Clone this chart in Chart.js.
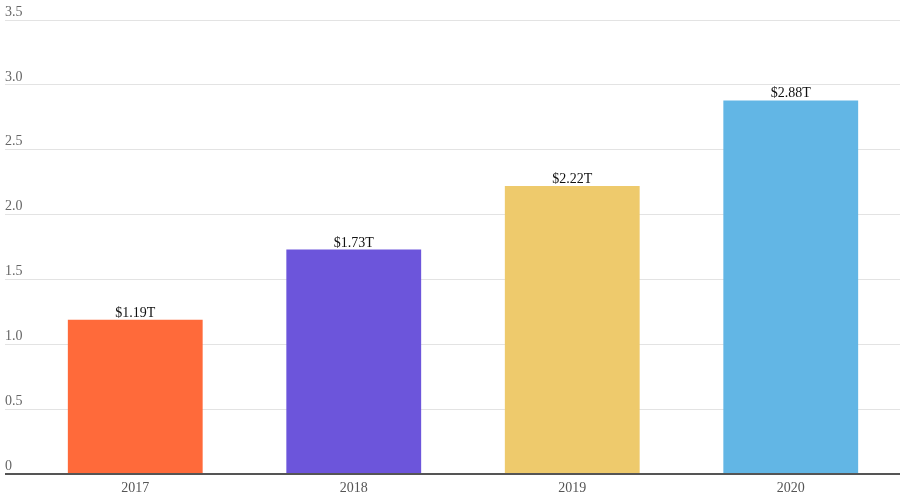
<!DOCTYPE html>
<html>
<head>
<meta charset="utf-8">
<script src="https://cdn.jsdelivr.net/npm/chart.js@4"></script>
<style>
  html, body { margin: 0; padding: 0; background: #fff; }
  #wrap { width: 900px; height: 501px; }
</style>
</head>
<body>
<div id="wrap"><canvas id="revenueChart"></canvas></div>
<script>
const years = ["2017", "2018", "2019", "2020"];
const revenue = [1.19, 1.73, 2.22, 2.88];
const barColors = ["#FF6A3A", "#6C55DB", "#EECA6C", "#62B6E5"];
const yTicks = [0, 0.5, 1.0, 1.5, 2.0, 2.5, 3.0, 3.5];

const serif = "'Liberation Serif', 'Times New Roman', serif";

// writes "$x.xxT" above each bar
const valueLabels = {
    id: "valueLabels",
    afterDatasetsDraw(chart) {
        const ctx = chart.ctx;
        const meta = chart.getDatasetMeta(0);
        ctx.save();
        ctx.font = "14px " + serif;
        ctx.fillStyle = "#111";
        ctx.textAlign = "center";
        ctx.textBaseline = "alphabetic";
        meta.data.forEach((bar, i) => {
            ctx.fillText("$" + revenue[i].toFixed(2) + "T", bar.x, bar.y - 3);
        });
        ctx.restore();
    }
};

new Chart(document.querySelector("#revenueChart"), {
    type: "bar",
    data: {
        labels: years,
        datasets: [{
            data: revenue,
            backgroundColor: barColors,
            borderWidth: 0,
            barPercentage: 0.617,
            categoryPercentage: 1
        }]
    },
    options: {
        responsive: true,
        maintainAspectRatio: false,
        animation: false,
        layout: { padding: { left: 5, right: 0, top: 20, bottom: 0 } },
        plugins: {
            legend: { display: false },
            tooltip: { enabled: false }
        },
        scales: {
            x: {
                afterFit(scale) { scale.height = 27; },
                grid: { display: false, drawTicks: false },
                border: { display: false },
                ticks: {
                    color: "#555",
                    padding: 6,
                    font: { family: serif, size: 14 }
                }
            },
            y: {
                min: 0,
                max: 3.5,
                afterFit(scale) { scale.width = 21; },
                afterBuildTicks(scale) {
                    scale.ticks = yTicks.map(v => ({ value: v }));
                },
                grid: {
                    color: c => c.tick && c.tick.value === 0 ? "#555" : "#e3e3e3",
                    lineWidth: c => c.tick && c.tick.value === 0 ? 2 : 1,
                    tickLength: 21
                },
                border: { display: false },
                ticks: {
                    color: "#666",
                    crossAlign: "far",
                    labelOffset: -8,
                    font: { family: serif, size: 14 },
                    callback: v => v === 0 ? "0" : v.toFixed(1)
                }
            }
        }
    },
    plugins: [valueLabels]
});
</script>
</body>
</html>
